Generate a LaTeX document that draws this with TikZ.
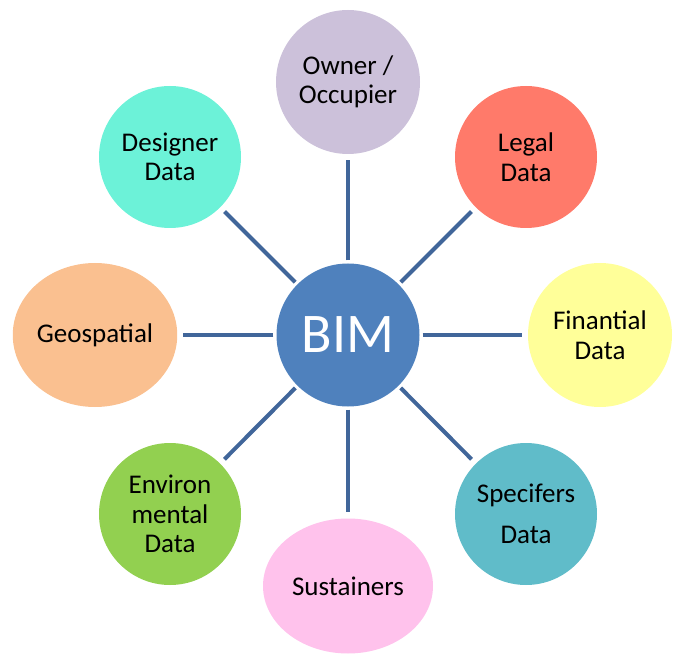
\documentclass[tikz,border=0pt]{standalone}
\usepackage{fontspec}
\setmainfont{Carlito}
\usetikzlibrary{shapes.geometric}
\definecolor{hubblue}{HTML}{4F81BD}
\definecolor{spoke}{HTML}{41669A}
\definecolor{cOwner}{HTML}{CCC1DA}
\definecolor{cLegal}{HTML}{FF7A6A}
\definecolor{cFin}{HTML}{FFFF99}
\definecolor{cSpec}{HTML}{60BCC9}
\definecolor{cSust}{HTML}{FFC2EC}
\definecolor{cEnv}{HTML}{92D050}
\definecolor{cGeo}{HTML}{FAC090}
\definecolor{cDes}{HTML}{6CF2D8}
\begin{document}
\begin{tikzpicture}[x=1pt,y=-1pt,
  bubble/.style={circle,draw=none,inner sep=0pt,minimum size=142pt,
    align=center,font=\fontsize{27}{29.5}\selectfont,text=black},
  oval/.style={ellipse,draw=none,inner sep=0pt,align=center,
    font=\fontsize{27}{29.5}\selectfont,text=black},
  spokeline/.style={draw=spoke,line width=4pt,shorten <=3pt,shorten >=6pt}]
\useasboundingbox (0,0) rectangle (675,655);
% hub
\node[bubble,fill=hubblue,minimum size=143pt,text=white,
  font=\fontsize{56}{60}\selectfont] (bim) at (348,335) {BIM};
% surrounding bubbles
\node[bubble,fill=cOwner,minimum size=144pt] (owner) at (348,82) {Owner /\\Occupier};
\node[bubble,fill=cLegal] (legal) at (526,157) {Legal\\Data};
\node[bubble,fill=cFin,minimum size=144pt] (fin) at (600,335) {Finantial\\Data};
\node[bubble,fill=cSpec] (spec) at (526,514) {Specifers\\[12pt]Data};
\node[oval,fill=cSust,minimum width=170pt,minimum height=135pt] (sust) at (348,586) {Sustainers};
\node[bubble,fill=cEnv] (env) at (170,514) {Environ\\mental\\Data};
\node[oval,fill=cGeo,minimum width=164pt,minimum height=144pt] (geo) at (95,335) {Geospatial};
\node[bubble,fill=cDes] (des) at (170,157) {Designer\\Data};
% spokes
\foreach \n in {owner,legal,fin,spec,sust,env,geo,des}
  \draw[spokeline] (bim) -- (\n);
\end{tikzpicture}
\end{document}
